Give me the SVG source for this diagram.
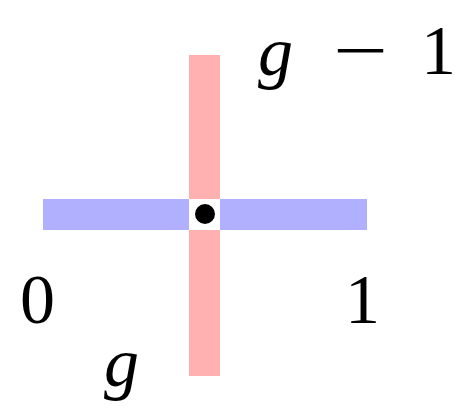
<svg xmlns="http://www.w3.org/2000/svg" width="467" height="410" viewBox="0 0 467 410">
<style>
.lbl{font-family:"Liberation Serif","DejaVu Serif",serif;font-size:70px;fill:#000}
.it{font-style:italic}
</style>
<rect width="467" height="410" fill="#fff"/>
<g id="connectors">
<rect id="red-bar" x="189" y="55" width="31" height="321" fill="#ffb0b0"/>
<rect id="blue-bar" x="43" y="199" width="324" height="31" fill="#b0b0ff"/>
</g>
<g id="center">
<rect x="189" y="199" width="31" height="31" fill="#fff"/>
<circle cx="205" cy="214" r="10" fill="#000"/>
</g>
<g id="label-top"><text class="lbl it" x="258" y="75">g</text><text class="lbl" x="333" y="74" textLength="55" lengthAdjust="spacingAndGlyphs">−</text><text class="lbl" x="421" y="74">1</text></g>
<g id="label-0"><text class="lbl" x="20" y="323">0</text></g>
<g id="label-1"><text class="lbl" x="345" y="323">1</text></g>
<g id="label-g"><text class="lbl it" x="104" y="386">g</text></g>
</svg>
